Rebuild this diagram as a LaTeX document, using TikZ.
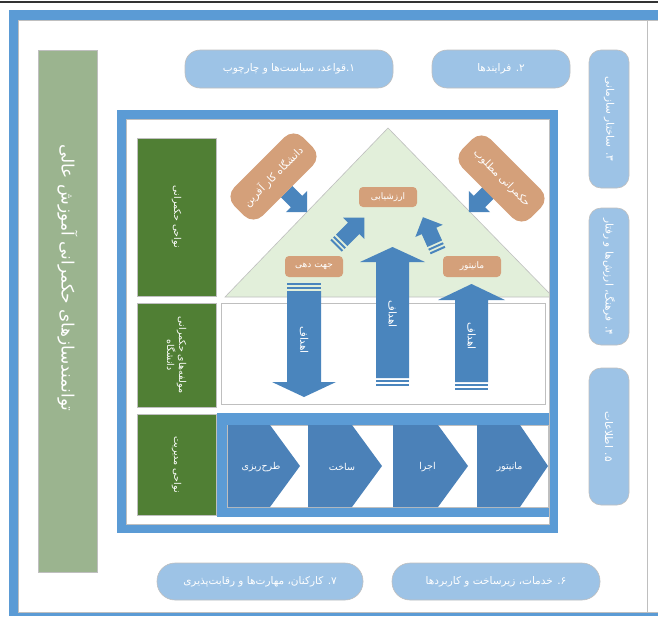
\documentclass[tikz,border=0pt]{standalone}
\usepackage{fontspec}
\newfontfamily\fa[Script=Arabic]{DejaVu Sans}
\TeXXeTstate=1

\definecolor{frameblue}{HTML}{5B9BD5}
\definecolor{pillblue}{HTML}{9DC3E6}
\definecolor{sage}{HTML}{9BB48F}
\definecolor{leaf}{HTML}{507F34}
\definecolor{mint}{HTML}{E2EFDA}
\definecolor{clay}{HTML}{D4A07A}
\definecolor{steel}{HTML}{4A85BD}
\definecolor{chev}{HTML}{4B81B8}
\definecolor{rim}{HTML}{BFBFBF}

% right-to-left Persian text
\newcommand\fatext[1]{{\fa\beginR #1\endR}}

% striped block arrow: tail x, tail y, angle, length, shaft half width, head half width, head length
\newcommand\stripedarrow[7]{%
  \begin{scope}[shift={(#1,#2)}, rotate=#3]
    \fill[steel] (0,-#5) rectangle (2,#5);
    \fill[steel] (4,-#5) rectangle (6,#5);
    \fill[steel] (8,-#5) -- ({#4-#7},-#5) -- ({#4-#7},-#6) -- (#4,0)
      -- ({#4-#7},#6) -- ({#4-#7},#5) -- (8,#5) -- cycle;
  \end{scope}}

\tikzset{
  pillbox/.style={fill=pillblue, draw=rim, line width=0.6, text=white,
    inner sep=0pt, font=\fa\fontsize{10.5}{12}\selectfont},
  areabox/.style={fill=leaf, draw=rim, line width=0.6, text=white,
    inner sep=0pt, align=center, font=\fa\fontsize{9.5}{12}\selectfont},
  claybox/.style={fill=clay, draw=none, text=white, rounded corners=4,
    inner sep=0pt, font=\fa\fontsize{9}{11}\selectfont},
  chevlabel/.style={text=white, font=\fa\fontsize{9.5}{11}\selectfont},
  goallabel/.style={text=white, rotate=-90, font=\fa\fontsize{10.5}{12}\selectfont},
}

\begin{document}
\begin{tikzpicture}[x=1pt, y=-1pt]
\useasboundingbox (0,0) rectangle (658,616);
\fill[white] (0,0) rectangle (658,616);

% top rule
\draw[line width=2.5, black!80] (0,2) -- (658,2);

% outer frame
\fill[frameblue] (9,10) rectangle (658,616);
\fill[white] (18,20) rectangle (658,612);
\draw[rim, line width=0.6] (18,612) -- (18,20) -- (658,20);
\draw[rim, line width=0.6] (18,612) -- (658,612);
\draw[rim, line width=0.6] (647,20) -- (647,612);

% left enabler bar
\node[fill=sage, draw=rim, line width=0.6, minimum width=59, minimum height=522, inner sep=0pt]
  (bar) at (67.5,311) {};
\node[text=white, rotate=-90, font=\fa\fontsize{17}{19}\selectfont] (bartext) at (67.5,278)
  {\fatext{توانمندسازهای حکمرانی آموزش عالی}};

% top pills
\node[pillbox, rounded corners=15, minimum width=208, minimum height=38] (p1) at (289,69)
  {\fatext{۱.قواعد، سیاست‌ها و چارچوب}};
\node[pillbox, rounded corners=15, minimum width=138, minimum height=38] (p2) at (501,69)
  {\fatext{۲. فرایندها}};

% right pills
\node[pillbox, rounded corners=12, rotate=-90, minimum width=138, minimum height=40] (p3) at (609,119)
  {\fatext{۳. ساختار سازمانی}};
\node[pillbox, rounded corners=12, rotate=-90, minimum width=137, minimum height=40] (p4) at (609,276.5)
  {\fatext{۴. فرهنگ، ارزش‌ها و رفتار}};
\node[pillbox, rounded corners=12, rotate=-90, minimum width=137, minimum height=40] (p5) at (609,436.5)
  {\fatext{۵. اطلاعات}};

% bottom pills
\node[pillbox, rounded corners=18, minimum width=206, minimum height=37] (p7) at (260,581.5)
  {\fatext{۷. کارکنان، مهارت‌ها و رقابت‌پذیری}};
\node[pillbox, rounded corners=18, minimum width=208, minimum height=37] (p6) at (496,581.5)
  {\fatext{۶. خدمات، زیرساخت و کاربردها}};

% inner area
\fill[white] (121.5,114.5) rectangle (553.5,528.5);

% area labels
\node[areabox, rotate=-90, minimum width=158, minimum height=79] (a1) at (176.5,217)
  {\fatext{نواحی حکمرانی}};
\node[areabox, rotate=-90, minimum width=104, minimum height=79] (a2) at (176.5,355)
  {\fatext{مولفه‌های حکمرانی}\\\fatext{دانشگاه}};
\node[areabox, rotate=-90, minimum width=101, minimum height=79] (a3) at (176.5,464.5)
  {\fatext{نواحی مدیریت}};

% governance triangle
\draw[fill=mint, draw=rim, line width=0.6] (388,128) -- (553,297) -- (225,297) -- cycle;

% components band
\draw[fill=white, draw=rim, line width=0.6] (221,303) rectangle (545,404);

% management band
\fill[frameblue] (217,413) rectangle (556,517);
\draw[fill=white, draw=rim, line width=0.6] (227,425) rectangle (548,507);
\foreach \xl/\xp/\xt/\lbl [count=\i] in
  {228/270/300/طرح‌ریزی, 308/352/382/ساخت, 393/438/468/اجرا, 477/520/548/مانیتور}{
  \fill[chev] (\xl,425) -- (\xp,425) -- (\xt,466) -- (\xp,507) -- (\xl,507) -- cycle;
  \node[chevlabel] (c\i) at ({(\xl+\xt)/2-3},467) {\fatext{\lbl}};
}

% goal arrows
\stripedarrow{304}{283}{-90}{114}{17}{32}{15}
\stripedarrow{392.5}{386}{90}{139}{16.5}{32.5}{15}
\stripedarrow{471.5}{390}{90}{106}{16.5}{33.5}{16}
\node[goallabel] (g1) at (304,340) {\fatext{اهداف}};
\node[goallabel] (g2) at (392.5,314) {\fatext{اهداف}};
\node[goallabel] (g3) at (471.5,336) {\fatext{اهداف}};

% small arrows
\stripedarrow{281}{186}{-45}{37}{8}{15}{15}
\stripedarrow{495}{186}{-135}{37}{8}{15}{15}
\stripedarrow{336}{246}{45}{40}{8}{15}{15}
\stripedarrow{438}{251}{114}{37}{8}{15}{15}

% governance elements
\node[claybox, minimum width=58, minimum height=20] (eval) at (388,197) {\fatext{ارزشیابی}};
\node[claybox, minimum width=58, minimum height=21] (steer) at (314,266.5) {\fatext{جهت دهی}};
\node[claybox, minimum width=58, minimum height=21] (mon) at (472,266.5) {\fatext{مانیتور}};
\node[claybox, rounded corners=13, rotate=45, minimum width=97, minimum height=40,
  font=\fa\fontsize{10.5}{12}\selectfont] (ent) at (273.5,176.5) {\fatext{دانشگاه کار آفرین}};
\node[claybox, rounded corners=13, rotate=-45, minimum width=97, minimum height=40,
  font=\fa\fontsize{10.5}{12}\selectfont] (good) at (501.5,178.5) {\fatext{حکمرانی مطلوب}};

% inner frame
\draw[frameblue, line width=9] (121.5,114.5) rectangle (553.5,528.5);
\draw[rim, line width=0.6] (126,119) rectangle (549,524);
\end{tikzpicture}
\end{document}
